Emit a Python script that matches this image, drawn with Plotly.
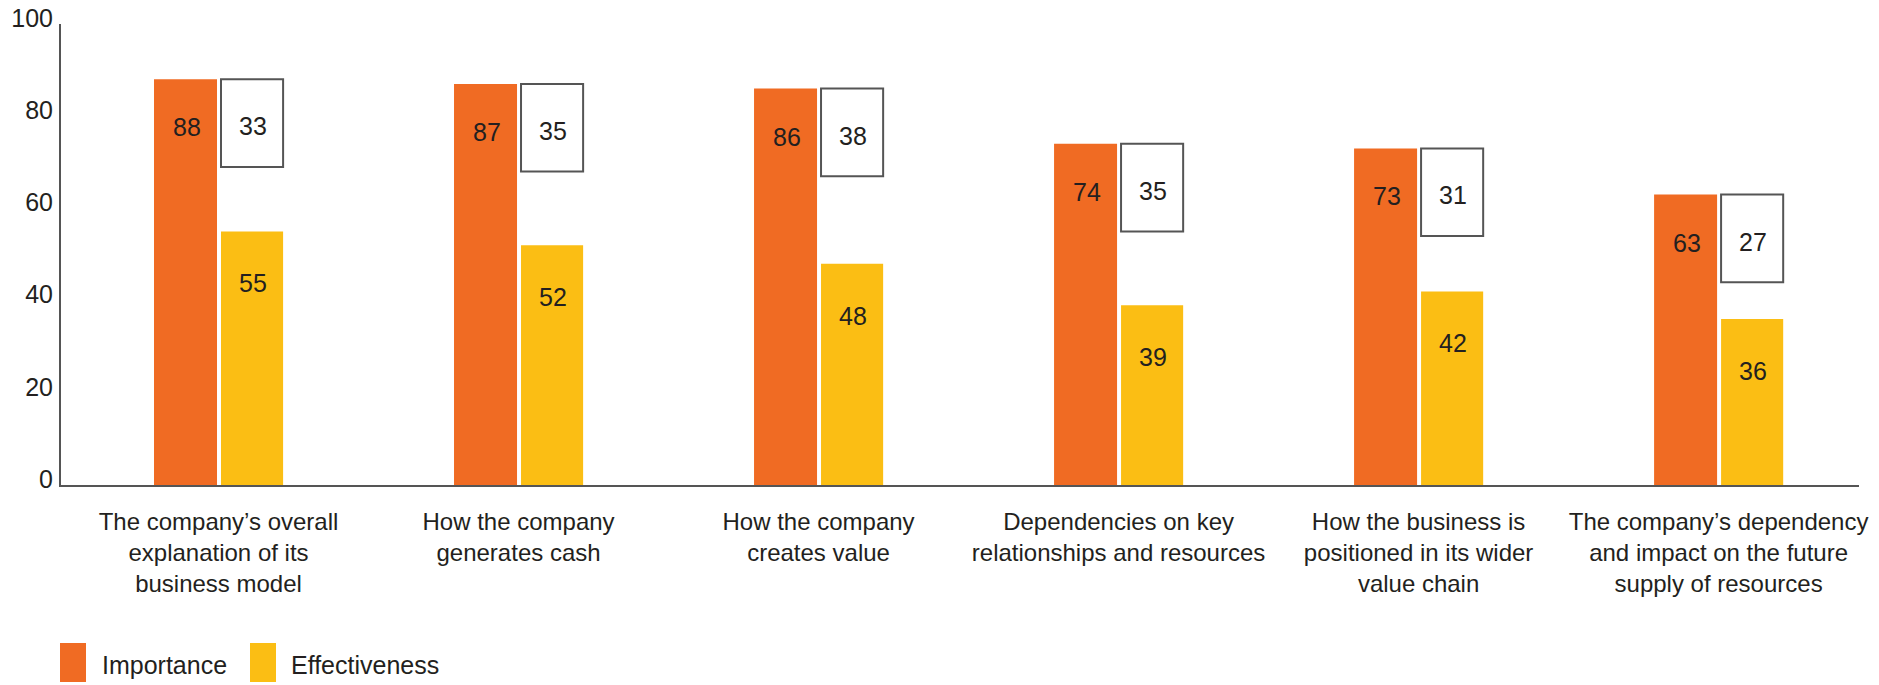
import plotly.graph_objects as go

categories = [
    "The company’s overall<br>explanation of its<br>business model",
    "How the company<br>generates cash",
    "How the company<br>creates value",
    "Dependencies on key<br>relationships and resources",
    "How the business is<br>positioned in its wider<br>value chain",
    "The company’s dependency<br>and impact on the future<br>supply of resources",
]
importance = [88, 87, 86, 74, 73, 63]
effectiveness = [55, 52, 48, 39, 42, 36]
gap = [i - e for i, e in zip(importance, effectiveness)]
ytick_vals = [0, 20, 40, 60, 80, 100]

ORANGE = "#F06B23"
YELLOW = "#FBBE14"
TXT = "#231F20"
AXIS = "#555555"
FONT = "Liberation Sans, Arial, sans-serif"
FS = 25
FS_CAT = 24

W, H = 1879, 685
L, R, T, B = 61, 20, 24, 200
PW, PH = W - L - R, H - T - B
BOX_H = 19

def px_x(p):
    return (p - L) / PW

def px_y(p):
    return (H - B - p) / PH

x = list(range(len(categories)))

fig = go.Figure()
fig.add_trace(go.Bar(x=x, y=importance, name="Importance", marker=dict(color=ORANGE, line=dict(width=0)),
                     width=0.21, offset=-0.215, showlegend=False, hoverinfo="y"))
fig.add_trace(go.Bar(x=x, y=effectiveness, name="Effectiveness", marker=dict(color=YELLOW, line=dict(width=0)),
                     width=0.207, offset=0.0083, showlegend=False, hoverinfo="y"))
fig.add_trace(go.Bar(x=x, y=[BOX_H] * len(x), base=[v - BOX_H for v in importance], name="Gap",
                     marker=dict(color="white", line=dict(color=AXIS, width=2)),
                     width=0.207, offset=0.0083, showlegend=False, hoverinfo="skip"))

annotations = []
for i in x:
    annotations.append(dict(x=i, y=importance[i], xref="x", yref="y", text=str(importance[i]),
                            showarrow=False, xshift=-32, yshift=-48, font=dict(size=FS, color=TXT, family=FONT)))
    annotations.append(dict(x=i, y=importance[i], xref="x", yref="y", text=str(gap[i]),
                            showarrow=False, xshift=34, yshift=-47, font=dict(size=FS, color=TXT, family=FONT)))
    annotations.append(dict(x=i, y=effectiveness[i], xref="x", yref="y", text=str(effectiveness[i]),
                            showarrow=False, xshift=34, yshift=-52, font=dict(size=FS, color=TXT, family=FONT)))

# manual legend
shapes = []
legend_items = [("Importance", ORANGE, 60, 86, 100), ("Effectiveness", YELLOW, 250, 276, 289)]
for name, col, x0, x1, tx in legend_items:
    shapes.append(dict(type="rect", xref="paper", yref="paper", x0=px_x(x0), x1=px_x(x1),
                       y0=px_y(682), y1=px_y(643), fillcolor=col, line=dict(width=0)))
    annotations.append(dict(x=px_x(tx), y=px_y(665), xref="paper", yref="paper", text=name, showarrow=False,
                            xanchor="left", yanchor="middle", font=dict(size=FS, color=TXT, family=FONT)))

fig.update_layout(
    width=W, height=H,
    margin=dict(l=L, r=R, t=T, b=B, pad=0),
    paper_bgcolor="white", plot_bgcolor="white",
    barmode="overlay",
    font=dict(family=FONT, size=FS, color=TXT),
    xaxis=dict(tickmode="array", tickvals=x, ticktext=categories, range=[-0.525, 5.468],
               showgrid=False, zeroline=False, showline=True, linecolor=AXIS, linewidth=2,
               ticks="", tickangle=0, automargin=False, ticklabelstandoff=14,
               tickfont=dict(size=FS_CAT, family=FONT, color=TXT)),
    yaxis=dict(range=[0, 100], tickvals=ytick_vals, showgrid=False, zeroline=False,
               showline=True, linecolor=AXIS, linewidth=2, ticks="", ticklabelstandoff=1,
               automargin=False, ticklabelshift=-6, tickfont=dict(size=FS, family=FONT, color=TXT)),
    annotations=annotations,
    shapes=shapes,
)

fig.write_html("out.html")
